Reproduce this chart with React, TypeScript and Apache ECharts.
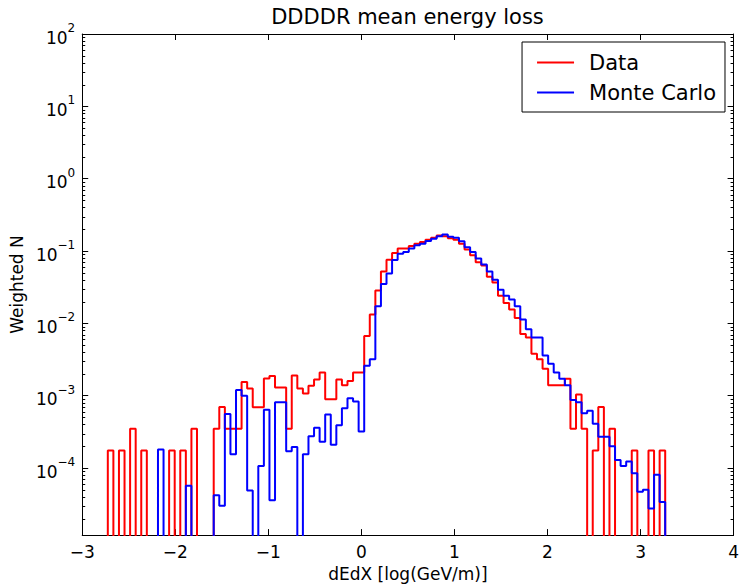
import React, { useEffect, useRef } from "react";
import * as echarts from "echarts";

// Histogram binning (x values of the bin edges)
const BIN_START = -2.725;
const BIN_WIDTH = 0.0599;

// Weighted N per bin (0 = empty bin)
const DATA_COUNTS = [
  1.75e-4, 0, 1.75e-4, 0, 3.5e-4, 0, 1.75e-4, 0, 0, 0,
  0, 1.75e-4, 0, 1.75e-4, 0, 3.5e-4, 0, 0, 0, 3.5e-4,
  7e-4, 3.5e-4, 3.5e-4, 3.5e-4, 1.55e-3, 1.26e-3, 6.9e-4, 6.9e-4, 1.73e-3, 1.87e-3,
  1.3e-3, 1.3e-3, 3.5e-4, 1.9e-3, 1.26e-3, 1.07e-3, 1.37e-3, 1.68e-3, 2.1e-3, 8.9e-4,
  8.9e-4, 1.68e-3, 1.4e-3, 1.6e-3, 2.1e-3, 2.1e-3, 6.7e-3, 1.33e-2, 2.85e-2, 5.2e-2,
  7.6e-2, 9.4e-2, 0.108, 0.108, 0.117, 0.126, 0.133, 0.143, 0.152, 0.164,
  0.16, 0.15, 0.143, 0.126, 0.105, 0.0875, 0.07, 0.063, 0.0442, 0.0368,
  0.0241, 0.0191, 0.0155, 0.0119, 7.1e-3, 6.4e-3, 3.8e-3, 3.2e-3, 2.36e-3, 1.4e-3,
  1.4e-3, 1.4e-3, 1.72e-3, 3.5e-4, 1.04e-3, 3.5e-4, 0, 1.75e-4, 7e-4, 0,
  3.5e-4, 0, 0, 0, 1.75e-4, 0, 0, 1.75e-4, 0, 1.75e-4,
];

const MC_COUNTS = [
  0, 0, 0, 0, 0, 0, 0, 0, 0, 1.8e-4,
  0, 0, 0, 0, 5.7e-5, 0, 0, 0, 0, 4.2e-5,
  3e-5, 5.6e-4, 1.55e-4, 1.2e-3, 1.0e-3, 4.9e-5, 0, 1.07e-4, 6.4e-4, 3.6e-5,
  8.1e-4, 8.1e-4, 1.7e-4, 1.95e-4, 0, 1.55e-4, 2.75e-4, 3.6e-4, 2.3e-4, 5.5e-4,
  2.1e-4, 3.9e-4, 6.7e-4, 9.2e-4, 8.3e-4, 3.2e-4, 2.6e-3, 3.2e-3, 1.73e-2, 3.5e-2,
  4.9e-2, 7.5e-2, 9.2e-2, 0.097, 0.108, 0.12, 0.126, 0.138, 0.148, 0.16,
  0.169, 0.158, 0.152, 0.137, 0.113, 0.097, 0.079, 0.065, 0.052, 0.04,
  0.0291, 0.0241, 0.0213, 0.0172, 0.0113, 8.3e-3, 6.4e-3, 6.4e-3, 3.6e-3, 2.76e-3,
  2.1e-3, 1.72e-3, 1.4e-3, 8.7e-4, 8.1e-4, 5.7e-4, 6.2e-4, 4.1e-4, 2.7e-4, 2.7e-4,
  2.0e-4, 1.29e-4, 1.07e-4, 1.23e-4, 8.5e-5, 4.7e-5, 5e-5, 2.76e-5, 8.1e-5, 3.4e-5,
];

const SERIES_NAMES = ["Data", "Monte Carlo"];
const X_MIN = -3;
const X_MAX = 4;
const Y_MIN = 1.183e-5;
const Y_MAX = 100;
const FLOOR = 1e-7;
const MINOR_MULTIPLIERS = [2, 3, 4, 5, 6, 7, 8, 9];
const DECADES = [-5, -4, -3, -2, -1, 0, 1];

const FONT = "DejaVu Sans";

function stepPoints(vals: number[]): number[][] {
  const pts: number[][] = [[BIN_START, FLOOR]];
  vals.forEach((v, i) => {
    const y = v > 0 ? v : FLOOR;
    const x0 = BIN_START + i * BIN_WIDTH;
    const x1 = BIN_START + (i + 1) * BIN_WIDTH;
    pts.push([x0, y], [x1, y]);
  });
  pts.push([BIN_START + vals.length * BIN_WIDTH, FLOOR]);
  return pts;
}

function minorTicks(): number[] {
  const out: number[] = [];
  DECADES.forEach((d) => {
    MINOR_MULTIPLIERS.forEach((k) => {
      const v = k * Math.pow(10, d);
      if (v > Y_MIN && v < Y_MAX) out.push(v);
    });
  });
  return out;
}

function minus(n: number): string {
  return n < 0 ? "\u2212" + -n : String(n);
}

export default function App() {
  const ref = useRef<HTMLDivElement>(null);

  useEffect(() => {
    if (!ref.current) return;
    const chart = echarts.init(ref.current, undefined, { renderer: "svg" });

    const axisLine = { show: true, onZero: false, lineStyle: { color: "#000", width: 1 } };
    const majorTick = { show: true, inside: true, length: 6, lineStyle: { color: "#000", width: 1 } };

    const option: any = {
      animation: false,
      backgroundColor: "#fff",
      title: {
        text: "DDDDR mean energy loss",
        left: 407.5,
        top: 6,
        textAlign: "center",
        padding: 0,
        textStyle: { fontFamily: FONT, fontSize: 21, fontWeight: "normal", color: "#000" },
      },
      legend: {
        data: SERIES_NAMES,
        orient: "vertical",
        right: 17,
        top: 42,
        backgroundColor: "#fff",
        borderColor: "#000",
        borderWidth: 1,
        borderRadius: 0,
        padding: [10, 9, 9, 15],
        itemGap: 9,
        icon: "rect",
        itemWidth: 37,
        itemHeight: 2,
        selectedMode: false,
        textStyle: { fontFamily: FONT, fontSize: 21, color: "#000", padding: [0, 0, 0, 10] },
      },
      grid: { left: 80, right: 7, top: 34, bottom: 45, containLabel: false },
      xAxis: [
        {
          type: "value",
          min: X_MIN,
          max: X_MAX,
          interval: 1,
          position: "bottom",
          axisLine,
          axisTick: majorTick,
          splitLine: { show: false },
          axisLabel: {
            formatter: (v: number) => minus(v),
            fontFamily: FONT,
            fontSize: 17,
            color: "#000",
            margin: 8,
          },
          name: "dEdX [log(GeV/m)]",
          nameLocation: "middle",
          nameGap: 27,
          nameTextStyle: { fontFamily: FONT, fontSize: 17, color: "#000" },
        },
        {
          type: "value",
          min: X_MIN,
          max: X_MAX,
          interval: 1,
          position: "top",
          axisLine,
          axisTick: majorTick,
          splitLine: { show: false },
          axisLabel: { show: false },
        },
      ],
      yAxis: [
        {
          type: "log",
          logBase: 10,
          min: Y_MIN,
          max: Y_MAX,
          position: "left",
          axisLine,
          axisTick: majorTick,
          splitLine: { show: false },
          axisLabel: {
            formatter: (v: number) => {
              const e = Math.log10(v);
              const r = Math.round(e);
              if (Math.abs(e - r) > 1e-6) return "";
              return "{b|10}{s|" + minus(r) + "}";
            },
            margin: 7,
            rich: {
              b: { fontFamily: FONT, fontSize: 17, color: "#000", lineHeight: 24, verticalAlign: "bottom" },
              s: { fontFamily: FONT, fontSize: 12, color: "#000", lineHeight: 12, verticalAlign: "top" },
            },
          },
          name: "Weighted N",
          nameLocation: "middle",
          nameGap: 48,
          nameTextStyle: { fontFamily: FONT, fontSize: 17, color: "#000" },
        },
        {
          type: "log",
          logBase: 10,
          min: Y_MIN,
          max: Y_MAX,
          position: "right",
          axisLine,
          axisTick: majorTick,
          splitLine: { show: false },
          axisLabel: { show: false },
        },
      ],
      series: [
        {
          name: SERIES_NAMES[0],
          type: "line",
          data: stepPoints(DATA_COUNTS),
          xAxisIndex: 0,
          yAxisIndex: 0,
          symbol: "none",
          clip: true,
          lineStyle: { color: "#ff0000", width: 2 },
          itemStyle: { color: "#ff0000" },
          z: 3,
        },
        {
          name: SERIES_NAMES[1],
          type: "line",
          data: stepPoints(MC_COUNTS),
          xAxisIndex: 0,
          yAxisIndex: 0,
          symbol: "none",
          clip: true,
          lineStyle: { color: "#0000ff", width: 2 },
          itemStyle: { color: "#0000ff" },
          z: 3,
        },
        {
          type: "custom",
          xAxisIndex: 0,
          yAxisIndex: 0,
          silent: true,
          z: 5,
          data: minorTicks().map((v) => [X_MIN, v]),
          renderItem: (params: any, api: any) => {
            const p = api.coord([X_MIN, api.value(1)]);
            const cs = params.coordSys;
            const y = Math.round(p[1]) + 0.5;
            return {
              type: "group",
              children: [
                { type: "line", shape: { x1: cs.x, y1: y, x2: cs.x + 3, y2: y }, style: { stroke: "#000", lineWidth: 1 } },
                {
                  type: "line",
                  shape: { x1: cs.x + cs.width - 3, y1: y, x2: cs.x + cs.width, y2: y },
                  style: { stroke: "#000", lineWidth: 1 },
                },
              ],
            };
          },
        },
      ],
    };

    chart.setOption(option);
    return () => chart.dispose();
  }, []);

  return (
    <div
      ref={ref}
      style={{ position: "absolute", left: 0, top: 0, width: 742, height: 587, background: "#fff" }}
    />
  );
}
